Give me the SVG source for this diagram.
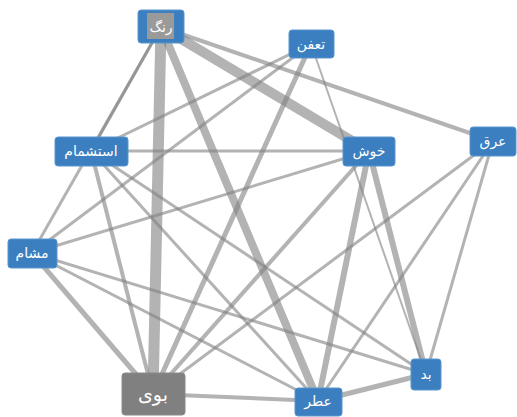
<svg xmlns="http://www.w3.org/2000/svg" width="517" height="417" viewBox="0 0 517 417">
<style>
.e{stroke:#808080;stroke-opacity:0.6;fill:none;stroke-linecap:butt}
.n{fill:#3b7fc0;stroke:#5a96cc;stroke-width:1}
.g{fill:#808080;stroke:#8a8a8a;stroke-width:1}
.t{fill:#ffffff;font-family:"DejaVu Sans",sans-serif;font-size:14px;text-anchor:middle;dominant-baseline:central}
</style>
<rect width="517" height="417" fill="#ffffff"/>
<g id="edges">
<line class="e" x1="161" y1="27" x2="153" y2="394" stroke-width="11"/>
<line class="e" x1="161" y1="27" x2="369" y2="151" stroke-width="10"/>
<line class="e" x1="161" y1="27" x2="318" y2="401" stroke-width="8"/>
<line class="e" x1="161" y1="27" x2="493" y2="141" stroke-width="4"/>
<line class="e" x1="161" y1="27" x2="91" y2="151" stroke-width="3"/>
<line class="e" x1="161" y1="27" x2="32" y2="253" stroke-width="3"/>
<line class="e" x1="311" y1="44" x2="91" y2="151" stroke-width="3"/>
<line class="e" x1="311" y1="44" x2="32" y2="253" stroke-width="3"/>
<line class="e" x1="311" y1="44" x2="153" y2="394" stroke-width="5"/>
<line class="e" x1="311" y1="44" x2="426" y2="374" stroke-width="2"/>
<line class="e" x1="91" y1="151" x2="369" y2="151" stroke-width="3"/>
<line class="e" x1="91" y1="151" x2="153" y2="394" stroke-width="4"/>
<line class="e" x1="91" y1="151" x2="318" y2="401" stroke-width="3"/>
<line class="e" x1="91" y1="151" x2="426" y2="374" stroke-width="3"/>
<line class="e" x1="32" y1="253" x2="369" y2="151" stroke-width="3"/>
<line class="e" x1="32" y1="253" x2="153" y2="394" stroke-width="5"/>
<line class="e" x1="32" y1="253" x2="318" y2="401" stroke-width="3"/>
<line class="e" x1="32" y1="253" x2="426" y2="374" stroke-width="3"/>
<line class="e" x1="369" y1="151" x2="153" y2="394" stroke-width="4"/>
<line class="e" x1="369" y1="151" x2="318" y2="401" stroke-width="6"/>
<line class="e" x1="369" y1="151" x2="426" y2="374" stroke-width="6"/>
<line class="e" x1="493" y1="141" x2="153" y2="394" stroke-width="3"/>
<line class="e" x1="493" y1="141" x2="318" y2="401" stroke-width="3"/>
<line class="e" x1="493" y1="141" x2="426" y2="374" stroke-width="3"/>
<line class="e" x1="318" y1="401" x2="426" y2="374" stroke-width="5"/>
<line class="e" x1="153" y1="394" x2="318" y2="401" stroke-width="4"/>
</g>
<g id="node-rang">
<rect class="n" x="138" y="10" width="46" height="33" rx="3"/>
<rect x="147" y="13" width="27" height="26" fill="#9a9a9a"/>
<text class="t" x="161" y="27">رنگ</text>
</g>
<g id="node-taafon">
<rect class="n" x="289" y="30" width="45" height="28" rx="3"/>
<text class="t" x="311" y="44">تعفن</text>
</g>
<g id="node-khosh">
<rect class="n" x="343" y="137" width="52" height="29" rx="3"/>
<text class="t" x="369" y="151">خوش</text>
</g>
<g id="node-aragh">
<rect class="n" x="470" y="127" width="46" height="29" rx="3"/>
<text class="t" x="493" y="141">عرق</text>
</g>
<g id="node-esteshmam">
<rect class="n" x="55" y="137" width="73" height="29" rx="3"/>
<text class="t" x="91" y="151">استشمام</text>
</g>
<g id="node-masham">
<rect class="n" x="8" y="239" width="49" height="29" rx="3"/>
<text class="t" x="32" y="253">مشام</text>
</g>
<g id="node-booy">
<rect class="g" x="122" y="373" width="63" height="42" rx="3"/>
<text class="t" x="153" y="394" style="font-size:19px">بوی</text>
</g>
<g id="node-atr">
<rect class="n" x="295" y="388" width="47" height="28" rx="3"/>
<text class="t" x="318" y="401">عطر</text>
</g>
<g id="node-bad">
<rect class="n" x="411" y="359" width="30" height="31" rx="3"/>
<text class="t" x="426" y="374">بد</text>
</g>
</svg>
